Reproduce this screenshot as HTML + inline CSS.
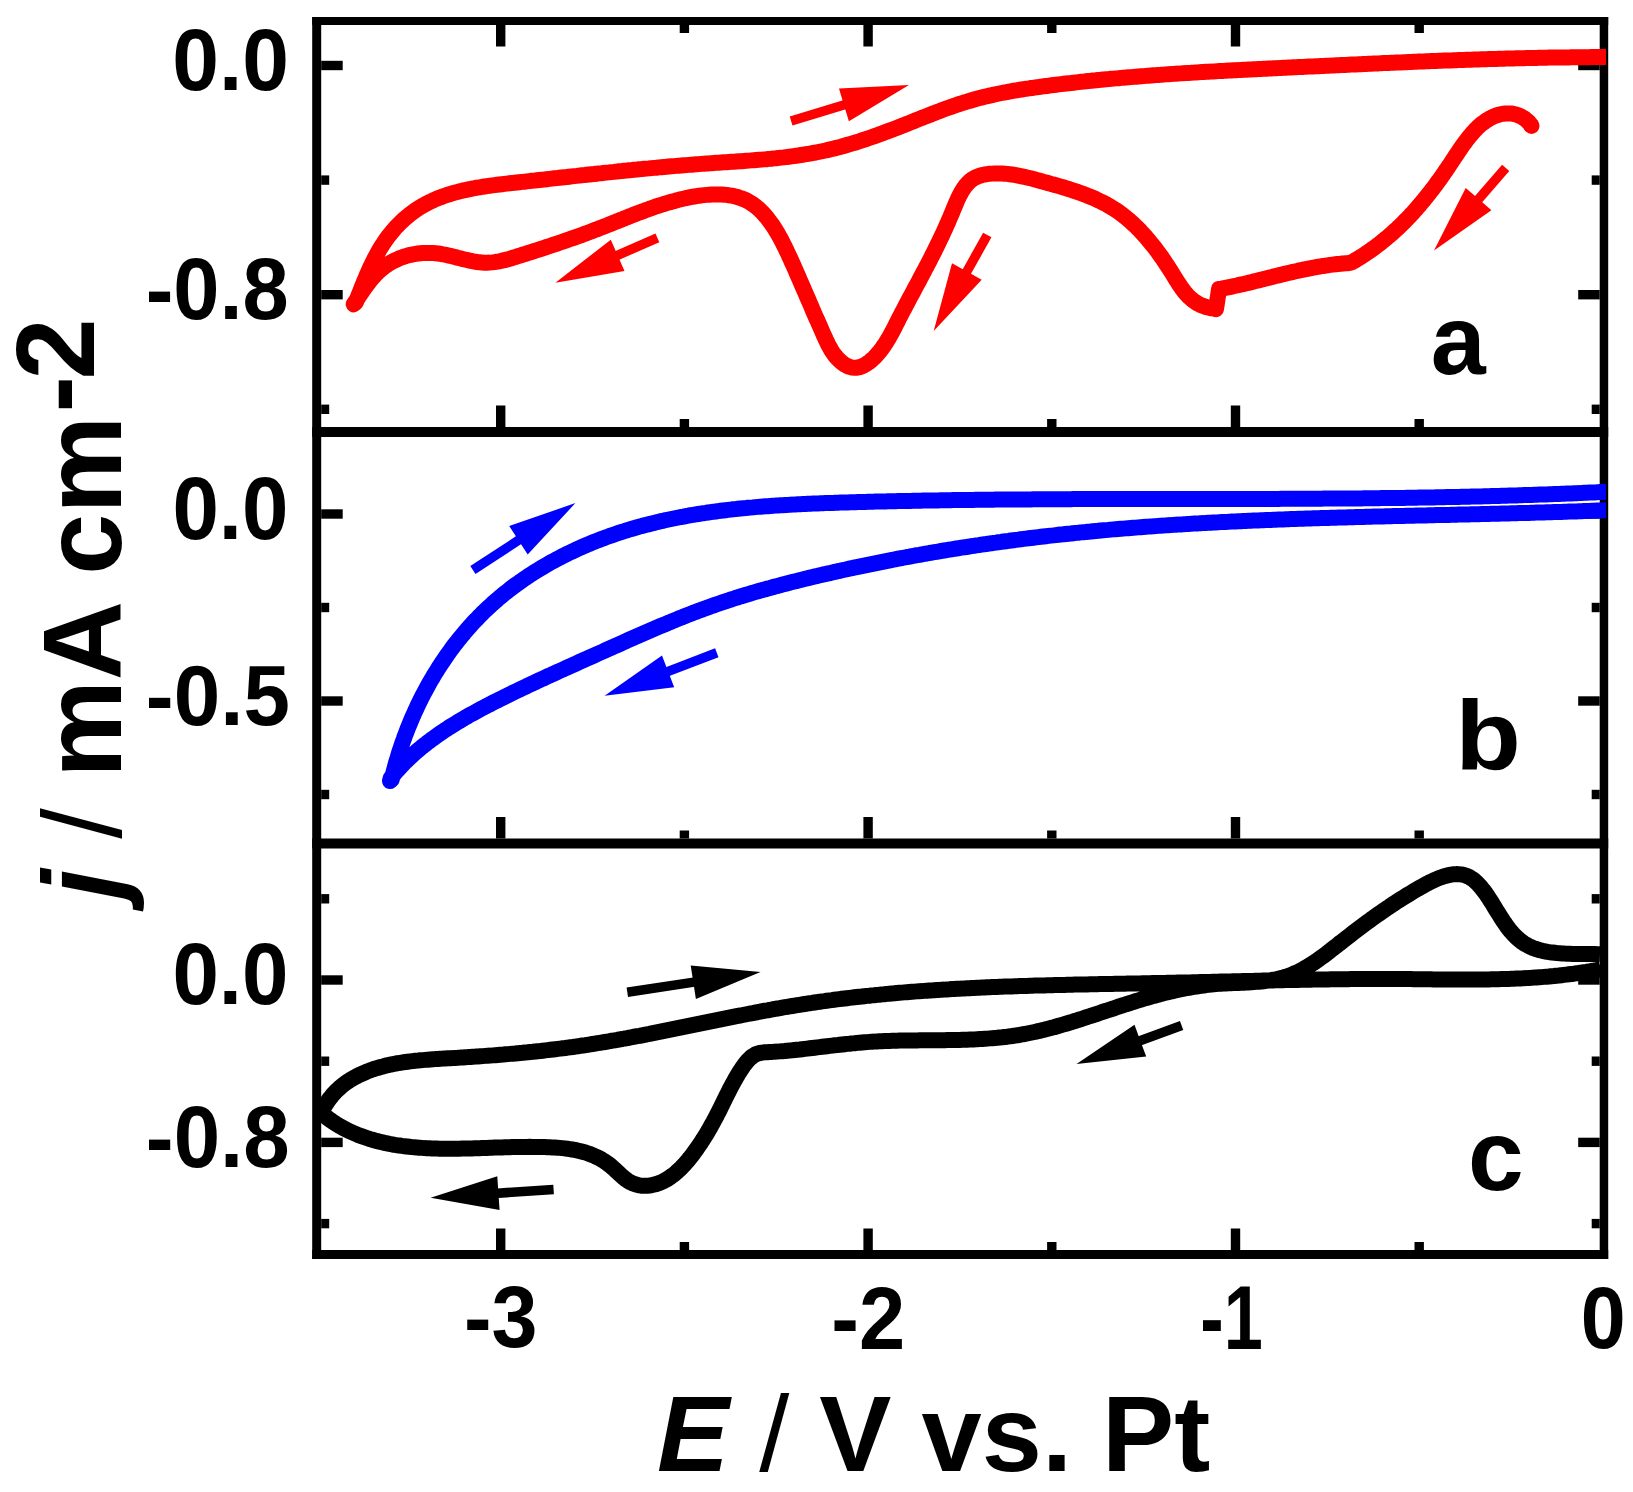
<!DOCTYPE html>
<html><head><meta charset="utf-8"><title>Cyclic voltammograms</title><style>
html,body{margin:0;padding:0;background:#fff;}
svg{display:block;}
text{font-family:"Liberation Sans",Arial,sans-serif;font-weight:bold;fill:#000;}
</style></head><body>
<svg width="1633" height="1492" viewBox="0 0 1633 1492">
<rect x="0" y="0" width="1633" height="1492" fill="#fff"/>
<g id="axes">
<rect x="312.2" y="17.0" width="1296.0" height="8.0" fill="#000"/>
<rect x="312.2" y="427.0" width="1296.0" height="10.0" fill="#000"/>
<rect x="312.2" y="838.5" width="1296.0" height="10.0" fill="#000"/>
<rect x="312.2" y="1250.0" width="1296.0" height="9.0" fill="#000"/>
<rect x="312.2" y="17.0" width="9.0" height="1242.0" fill="#000"/>
<rect x="1599.7" y="17.0" width="8.5" height="1242.0" fill="#000"/>
<rect x="496.0" y="25.0" width="9.4" height="21.5" fill="#000"/>
<rect x="496.0" y="405.5" width="9.4" height="21.5" fill="#000"/>
<rect x="496.0" y="817.0" width="9.4" height="21.5" fill="#000"/>
<rect x="496.0" y="1228.5" width="9.4" height="21.5" fill="#000"/>
<rect x="863.4" y="25.0" width="9.4" height="21.5" fill="#000"/>
<rect x="863.4" y="405.5" width="9.4" height="21.5" fill="#000"/>
<rect x="863.4" y="817.0" width="9.4" height="21.5" fill="#000"/>
<rect x="863.4" y="1228.5" width="9.4" height="21.5" fill="#000"/>
<rect x="1230.8" y="25.0" width="9.4" height="21.5" fill="#000"/>
<rect x="1230.8" y="405.5" width="9.4" height="21.5" fill="#000"/>
<rect x="1230.8" y="817.0" width="9.4" height="21.5" fill="#000"/>
<rect x="1230.8" y="1228.5" width="9.4" height="21.5" fill="#000"/>
<rect x="679.7" y="25.0" width="9.4" height="8.0" fill="#000"/>
<rect x="679.7" y="419.0" width="9.4" height="8.0" fill="#000"/>
<rect x="679.7" y="830.5" width="9.4" height="8.0" fill="#000"/>
<rect x="679.7" y="1242.0" width="9.4" height="8.0" fill="#000"/>
<rect x="1047.1" y="25.0" width="9.4" height="8.0" fill="#000"/>
<rect x="1047.1" y="419.0" width="9.4" height="8.0" fill="#000"/>
<rect x="1047.1" y="830.5" width="9.4" height="8.0" fill="#000"/>
<rect x="1047.1" y="1242.0" width="9.4" height="8.0" fill="#000"/>
<rect x="1414.5" y="25.0" width="9.4" height="8.0" fill="#000"/>
<rect x="1414.5" y="419.0" width="9.4" height="8.0" fill="#000"/>
<rect x="1414.5" y="830.5" width="9.4" height="8.0" fill="#000"/>
<rect x="1414.5" y="1242.0" width="9.4" height="8.0" fill="#000"/>
<rect x="321.2" y="60.8" width="21.5" height="9.4" fill="#000"/>
<rect x="1578.2" y="60.8" width="21.5" height="9.4" fill="#000"/>
<rect x="321.2" y="290.0" width="21.5" height="9.4" fill="#000"/>
<rect x="1578.2" y="290.0" width="21.5" height="9.4" fill="#000"/>
<rect x="321.2" y="175.4" width="8.0" height="9.4" fill="#000"/>
<rect x="1591.7" y="175.4" width="8.0" height="9.4" fill="#000"/>
<rect x="321.2" y="404.6" width="8.0" height="9.4" fill="#000"/>
<rect x="1591.7" y="404.6" width="8.0" height="9.4" fill="#000"/>
<rect x="321.2" y="509.3" width="21.5" height="9.4" fill="#000"/>
<rect x="1578.2" y="509.3" width="21.5" height="9.4" fill="#000"/>
<rect x="321.2" y="696.3" width="21.5" height="9.4" fill="#000"/>
<rect x="1578.2" y="696.3" width="21.5" height="9.4" fill="#000"/>
<rect x="321.2" y="602.8" width="8.0" height="9.4" fill="#000"/>
<rect x="1591.7" y="602.8" width="8.0" height="9.4" fill="#000"/>
<rect x="321.2" y="789.8" width="8.0" height="9.4" fill="#000"/>
<rect x="1591.7" y="789.8" width="8.0" height="9.4" fill="#000"/>
<rect x="321.2" y="975.3" width="21.5" height="9.4" fill="#000"/>
<rect x="1578.2" y="975.3" width="21.5" height="9.4" fill="#000"/>
<rect x="321.2" y="1137.7" width="21.5" height="9.4" fill="#000"/>
<rect x="1578.2" y="1137.7" width="21.5" height="9.4" fill="#000"/>
<rect x="321.2" y="894.1" width="8.0" height="9.4" fill="#000"/>
<rect x="1591.7" y="894.1" width="8.0" height="9.4" fill="#000"/>
<rect x="321.2" y="1056.5" width="8.0" height="9.4" fill="#000"/>
<rect x="1591.7" y="1056.5" width="8.0" height="9.4" fill="#000"/>
<rect x="321.2" y="1218.9" width="8.0" height="9.4" fill="#000"/>
<rect x="1591.7" y="1218.9" width="8.0" height="9.4" fill="#000"/>
</g>
<defs><clipPath id="plotclip"><rect x="0" y="0" width="1606" height="1492"/></clipPath></defs>
<g id="curves" clip-path="url(#plotclip)">
<path d="M1531.5,125.9 L1530.5,124.3 L1528.9,122.4 L1527.0,120.6 L1525.1,119.0 L1523.0,117.6 L1520.8,116.3 L1518.5,115.3 L1516.1,114.5 L1513.7,113.9 L1511.2,113.5 L1508.6,113.4 L1506.1,113.4 L1503.6,113.7 L1501.1,114.1 L1498.6,114.8 L1496.2,115.5 L1493.9,116.4 L1491.6,117.5 L1489.3,118.7 L1487.2,120.0 L1485.1,121.4 L1483.0,122.9 L1481.0,124.4 L1479.1,126.1 L1477.3,127.8 L1475.5,129.6 L1473.8,131.5 L1472.1,133.4 L1470.5,135.3 L1468.9,137.2 L1467.3,139.2 L1465.8,141.2 L1464.3,143.3 L1462.8,145.3 L1461.4,147.4 L1459.9,149.5 L1458.5,151.6 L1457.1,153.7 L1455.7,155.8 L1454.3,157.9 L1452.9,160.0 L1451.5,162.1 L1450.1,164.3 L1448.7,166.4 L1447.3,168.4 L1445.9,170.5 L1444.4,172.6 L1443.0,174.7 L1441.5,176.8 L1440.1,178.8 L1438.6,180.9 L1437.1,182.9 L1435.6,185.0 L1434.1,187.0 L1432.6,189.0 L1431.0,191.0 L1429.5,193.0 L1427.9,195.0 L1426.3,197.0 L1424.7,198.9 L1423.1,200.9 L1421.5,202.8 L1419.9,204.8 L1418.2,206.7 L1416.6,208.6 L1414.9,210.5 L1413.2,212.4 L1411.5,214.2 L1409.8,216.1 L1408.0,217.9 L1406.3,219.7 L1404.5,221.5 L1402.7,223.3 L1400.9,225.1 L1399.1,226.9 L1397.3,228.6 L1395.4,230.3 L1393.5,232.0 L1391.6,233.7 L1389.7,235.4 L1387.8,237.0 L1385.9,238.6 L1383.9,240.2 L1381.9,241.8 L1380.0,243.4 L1378.0,244.9 L1375.9,246.5 L1373.9,248.0 L1371.9,249.4 L1369.8,250.9 L1367.7,252.3 L1365.6,253.8 L1363.5,255.2 L1361.4,256.5 L1359.3,257.9 L1357.1,259.2 L1354.9,260.5 L1352.8,261.8 L1350.7,262.7 L1348.2,263.2 L1345.6,263.3 L1343.0,263.5 L1340.5,263.8 L1337.9,264.0 L1335.3,264.3 L1332.7,264.6 L1330.2,264.9 L1327.6,265.3 L1325.1,265.7 L1322.5,266.0 L1319.9,266.5 L1317.4,266.9 L1314.8,267.4 L1312.3,267.8 L1309.8,268.3 L1307.2,268.8 L1304.7,269.3 L1302.2,269.9 L1299.6,270.4 L1297.1,271.0 L1294.6,271.5 L1292.1,272.1 L1289.5,272.7 L1287.0,273.3 L1284.5,273.9 L1282.0,274.5 L1279.5,275.1 L1277.0,275.7 L1274.5,276.3 L1272.0,277.0 L1269.4,277.6 L1266.9,278.2 L1264.4,278.9 L1261.9,279.5 L1259.4,280.1 L1256.9,280.7 L1254.4,281.3 L1251.9,282.0 L1249.4,282.6 L1246.8,283.2 L1244.3,283.8 L1241.8,284.3 L1239.3,284.9 L1236.8,285.5 L1234.2,286.0 L1231.7,286.6 L1229.2,287.1 L1226.6,287.6 L1224.1,288.1 L1221.6,288.6 L1219.0,289.0 L1218.6,291.9 L1218.2,294.8 L1217.7,297.7 L1217.3,300.5 L1216.9,303.4 L1216.4,306.3 L1216.0,309.2 L1214.3,308.6 L1211.8,308.3 L1209.3,307.8 L1206.9,307.2 L1204.5,306.5 L1202.1,305.6 L1199.8,304.6 L1197.6,303.4 L1195.5,302.1 L1193.4,300.7 L1191.5,299.1 L1189.6,297.4 L1187.8,295.7 L1186.2,293.8 L1184.5,291.9 L1183.0,289.9 L1181.5,287.9 L1180.1,285.8 L1178.7,283.7 L1177.4,281.6 L1176.0,279.5 L1174.7,277.4 L1173.4,275.2 L1172.1,273.1 L1170.8,271.0 L1169.4,268.9 L1168.0,266.8 L1166.7,264.7 L1165.3,262.6 L1163.9,260.5 L1162.5,258.4 L1161.0,256.4 L1159.6,254.4 L1158.1,252.3 L1156.6,250.3 L1155.1,248.3 L1153.6,246.3 L1152.0,244.4 L1150.4,242.4 L1148.8,240.5 L1147.2,238.6 L1145.6,236.7 L1143.9,234.8 L1142.2,233.0 L1140.5,231.1 L1138.8,229.3 L1137.0,227.5 L1135.2,225.8 L1133.4,224.1 L1131.6,222.4 L1129.7,220.7 L1127.8,219.1 L1125.9,217.5 L1123.9,215.9 L1121.9,214.4 L1119.9,212.9 L1117.9,211.4 L1115.8,210.0 L1113.7,208.7 L1111.5,207.4 L1109.4,206.1 L1107.2,204.8 L1105.0,203.6 L1102.8,202.5 L1100.5,201.4 L1098.3,200.3 L1096.0,199.2 L1093.7,198.2 L1091.4,197.2 L1089.1,196.3 L1086.8,195.3 L1084.4,194.4 L1082.1,193.6 L1079.7,192.7 L1077.4,191.9 L1075.0,191.1 L1072.6,190.3 L1070.2,189.5 L1067.8,188.8 L1065.4,188.0 L1063.0,187.3 L1060.6,186.6 L1058.2,185.9 L1055.8,185.2 L1053.4,184.5 L1051.0,183.9 L1048.6,183.2 L1046.2,182.5 L1043.8,181.9 L1041.3,181.2 L1038.9,180.5 L1036.5,179.9 L1034.1,179.2 L1031.7,178.6 L1029.2,178.0 L1026.8,177.4 L1024.3,176.8 L1021.9,176.3 L1019.4,175.8 L1017.0,175.3 L1014.5,174.9 L1012.0,174.5 L1009.6,174.2 L1007.1,173.9 L1004.6,173.7 L1002.1,173.5 L999.6,173.4 L997.1,173.4 L994.6,173.4 L992.1,173.6 L989.6,173.8 L987.1,174.1 L984.6,174.5 L982.2,175.0 L979.7,175.7 L977.4,176.6 L975.1,177.6 L972.9,178.9 L970.9,180.3 L969.0,182.0 L967.3,183.8 L965.6,185.7 L964.1,187.7 L962.8,189.8 L961.5,191.9 L960.3,194.1 L959.1,196.4 L958.0,198.6 L957.0,200.9 L956.0,203.2 L955.0,205.5 L954.1,207.8 L953.1,210.1 L952.2,212.5 L951.2,214.8 L950.2,217.1 L949.2,219.4 L948.3,221.7 L947.2,224.0 L946.2,226.3 L945.2,228.6 L944.2,230.8 L943.1,233.1 L942.1,235.4 L941.0,237.6 L939.9,239.9 L938.8,242.2 L937.7,244.4 L936.6,246.7 L935.5,248.9 L934.4,251.2 L933.3,253.4 L932.1,255.6 L931.0,257.9 L929.9,260.1 L928.7,262.3 L927.6,264.5 L926.4,266.8 L925.2,269.0 L924.1,271.2 L922.9,273.4 L921.7,275.6 L920.5,277.8 L919.4,280.1 L918.2,282.3 L917.0,284.5 L915.8,286.7 L914.6,288.9 L913.5,291.1 L912.3,293.3 L911.1,295.5 L909.9,297.7 L908.7,300.0 L907.6,302.2 L906.4,304.4 L905.2,306.6 L904.1,308.8 L902.9,311.0 L901.7,313.3 L900.6,315.5 L899.4,317.7 L898.3,319.9 L897.2,322.2 L896.0,324.4 L894.9,326.7 L893.8,328.9 L892.6,331.1 L891.4,333.3 L890.2,335.5 L889.0,337.7 L887.7,339.8 L886.4,342.0 L885.0,344.1 L883.6,346.2 L882.2,348.2 L880.7,350.2 L879.1,352.2 L877.5,354.1 L875.8,355.9 L874.1,357.7 L872.2,359.5 L870.4,361.1 L868.4,362.6 L866.3,364.1 L864.1,365.3 L861.9,366.4 L859.5,367.2 L857.1,367.7 L854.6,367.8 L852.1,367.6 L849.7,366.9 L847.3,366.0 L845.1,364.8 L843.0,363.4 L841.1,361.8 L839.2,360.2 L837.4,358.4 L835.8,356.5 L834.2,354.5 L832.8,352.5 L831.4,350.4 L830.2,348.2 L829.0,346.0 L827.8,343.8 L826.8,341.5 L825.7,339.3 L824.7,337.0 L823.6,334.7 L822.6,332.4 L821.6,330.1 L820.6,327.8 L819.6,325.5 L818.6,323.2 L817.6,320.9 L816.5,318.7 L815.5,316.4 L814.5,314.1 L813.5,311.8 L812.5,309.5 L811.6,307.2 L810.6,304.9 L809.6,302.6 L808.6,300.3 L807.6,298.0 L806.6,295.7 L805.6,293.4 L804.6,291.1 L803.6,288.8 L802.6,286.5 L801.6,284.2 L800.6,281.9 L799.6,279.6 L798.6,277.3 L797.6,275.0 L796.6,272.7 L795.6,270.4 L794.6,268.1 L793.6,265.8 L792.5,263.5 L791.5,261.2 L790.5,258.9 L789.4,256.7 L788.4,254.4 L787.3,252.1 L786.2,249.9 L785.2,247.6 L784.0,245.4 L782.9,243.1 L781.8,240.9 L780.6,238.7 L779.4,236.5 L778.2,234.3 L776.9,232.1 L775.6,230.0 L774.3,227.9 L772.9,225.8 L771.5,223.7 L770.0,221.7 L768.5,219.7 L767.0,217.7 L765.4,215.8 L763.7,213.9 L762.0,212.1 L760.2,210.3 L758.4,208.6 L756.5,207.0 L754.5,205.4 L752.4,204.0 L750.3,202.6 L748.2,201.4 L745.9,200.2 L743.6,199.2 L741.3,198.3 L738.9,197.5 L736.5,196.8 L734.1,196.2 L731.6,195.7 L729.2,195.3 L726.7,194.9 L724.2,194.7 L721.7,194.5 L719.2,194.4 L716.7,194.4 L714.2,194.4 L711.7,194.5 L709.2,194.7 L706.7,194.9 L704.2,195.1 L701.7,195.4 L699.2,195.7 L696.7,196.1 L694.3,196.5 L691.8,196.9 L689.3,197.4 L686.9,197.9 L684.4,198.5 L682.0,199.0 L679.6,199.6 L677.1,200.2 L674.7,200.9 L672.3,201.5 L669.9,202.2 L667.5,202.9 L665.1,203.6 L662.7,204.4 L660.3,205.1 L657.9,205.9 L655.5,206.7 L653.2,207.5 L650.8,208.3 L648.4,209.2 L646.1,210.0 L643.7,210.9 L641.4,211.8 L639.0,212.6 L636.7,213.5 L634.3,214.4 L632.0,215.4 L629.7,216.3 L627.3,217.2 L625.0,218.1 L622.7,219.1 L620.4,220.0 L618.0,220.9 L615.7,221.9 L613.4,222.8 L611.1,223.7 L608.7,224.7 L606.4,225.6 L604.1,226.5 L601.8,227.4 L599.4,228.3 L597.1,229.2 L594.7,230.1 L592.4,231.0 L590.1,231.9 L587.7,232.8 L585.4,233.6 L583.0,234.5 L580.6,235.4 L578.3,236.2 L575.9,237.1 L573.6,237.9 L571.2,238.7 L568.8,239.5 L566.5,240.4 L564.1,241.2 L561.7,242.0 L559.4,242.8 L557.0,243.6 L554.6,244.4 L552.2,245.2 L549.8,246.0 L547.5,246.8 L545.1,247.5 L542.7,248.3 L540.3,249.1 L537.9,249.9 L535.6,250.6 L533.2,251.4 L530.8,252.2 L528.4,252.9 L526.0,253.7 L523.6,254.4 L521.2,255.2 L518.8,255.9 L516.4,256.7 L514.0,257.4 L511.6,258.2 L509.2,258.9 L506.8,259.5 L504.4,260.2 L502.0,260.7 L499.5,261.3 L497.1,261.7 L494.6,262.1 L492.1,262.4 L489.6,262.6 L487.1,262.7 L484.6,262.7 L482.1,262.6 L479.6,262.3 L477.1,262.0 L474.6,261.6 L472.2,261.2 L469.7,260.7 L467.3,260.1 L464.8,259.5 L462.4,258.9 L460.0,258.3 L457.5,257.7 L455.1,257.0 L452.7,256.4 L450.3,255.8 L447.8,255.3 L445.4,254.7 L442.9,254.3 L440.4,253.8 L437.9,253.5 L435.5,253.2 L433.0,253.0 L430.5,252.9 L427.9,252.9 L425.4,252.9 L422.9,253.0 L420.4,253.2 L418.0,253.5 L415.5,253.9 L413.0,254.3 L410.6,254.8 L408.1,255.4 L405.7,256.1 L403.3,256.9 L401.0,257.7 L398.6,258.7 L396.4,259.7 L394.1,260.8 L391.9,261.9 L389.7,263.2 L387.6,264.5 L385.5,265.9 L383.5,267.4 L381.5,269.0 L379.6,270.6 L377.8,272.3 L376.0,274.1 L374.3,275.9 L372.6,277.7 L371.0,279.7 L369.4,281.6 L367.9,283.6 L366.4,285.6 L364.9,287.6 L363.5,289.7 L362.1,291.7 L360.7,293.8 L359.3,295.9 L357.9,298.0 L356.5,300.1 L355.1,302.2 L353.7,304.3 L355.8,302.5 L356.7,300.1 L357.6,297.8 L358.5,295.5 L359.5,293.1 L360.4,290.8 L361.3,288.5 L362.2,286.2 L363.2,283.8 L364.1,281.5 L365.1,279.2 L366.1,276.9 L367.0,274.6 L368.1,272.3 L369.1,270.0 L370.1,267.7 L371.2,265.5 L372.3,263.2 L373.4,261.0 L374.5,258.7 L375.7,256.5 L376.9,254.3 L378.1,252.1 L379.3,249.9 L380.6,247.8 L381.9,245.7 L383.3,243.6 L384.7,241.5 L386.1,239.4 L387.6,237.4 L389.1,235.4 L390.7,233.4 L392.3,231.5 L393.9,229.6 L395.5,227.7 L397.3,225.9 L399.0,224.1 L400.8,222.3 L402.6,220.6 L404.4,218.9 L406.3,217.3 L408.3,215.7 L410.2,214.1 L412.2,212.6 L414.2,211.1 L416.3,209.7 L418.4,208.3 L420.5,207.0 L422.7,205.7 L424.9,204.5 L427.1,203.3 L429.3,202.2 L431.6,201.1 L433.8,200.0 L436.1,199.0 L438.5,198.1 L440.8,197.2 L443.2,196.3 L445.5,195.5 L447.9,194.7 L450.3,194.0 L452.7,193.2 L455.1,192.6 L457.5,191.9 L459.9,191.3 L462.4,190.7 L464.8,190.2 L467.3,189.6 L469.7,189.1 L472.2,188.6 L474.6,188.2 L477.1,187.7 L479.6,187.3 L482.1,186.9 L484.5,186.5 L487.0,186.1 L489.5,185.8 L492.0,185.4 L494.5,185.1 L496.9,184.8 L499.4,184.5 L501.9,184.2 L504.4,183.9 L506.9,183.6 L509.4,183.3 L511.9,183.0 L514.4,182.8 L516.8,182.5 L519.3,182.2 L521.8,181.9 L524.3,181.7 L526.8,181.4 L529.3,181.1 L531.8,180.8 L534.3,180.6 L536.8,180.3 L539.3,180.0 L541.8,179.7 L544.2,179.5 L546.7,179.2 L549.2,178.9 L551.7,178.6 L554.2,178.3 L556.7,178.1 L559.2,177.8 L561.7,177.5 L564.2,177.2 L566.7,177.0 L569.1,176.7 L571.6,176.4 L574.1,176.1 L576.6,175.9 L579.1,175.6 L581.6,175.3 L584.1,175.1 L586.6,174.8 L589.1,174.5 L591.6,174.2 L594.0,174.0 L596.5,173.7 L599.0,173.4 L601.5,173.2 L604.0,172.9 L606.5,172.6 L609.0,172.4 L611.5,172.1 L614.0,171.9 L616.5,171.6 L619.0,171.3 L621.5,171.1 L623.9,170.8 L626.4,170.6 L628.9,170.3 L631.4,170.1 L633.9,169.8 L636.4,169.6 L638.9,169.3 L641.4,169.1 L643.9,168.8 L646.4,168.6 L648.9,168.4 L651.4,168.1 L653.9,167.9 L656.4,167.7 L658.9,167.4 L661.4,167.2 L663.8,167.0 L666.3,166.8 L668.8,166.5 L671.3,166.3 L673.8,166.1 L676.3,165.9 L678.8,165.7 L681.3,165.5 L683.8,165.3 L686.3,165.1 L688.8,164.9 L691.3,164.7 L693.8,164.5 L696.3,164.3 L698.8,164.1 L701.3,163.9 L703.8,163.7 L706.3,163.5 L708.8,163.4 L711.3,163.2 L713.8,163.0 L716.3,162.8 L718.8,162.7 L721.3,162.5 L723.8,162.3 L726.3,162.2 L728.8,162.0 L731.3,161.8 L733.8,161.7 L736.3,161.5 L738.8,161.3 L741.3,161.2 L743.8,161.0 L746.3,160.8 L748.8,160.6 L751.3,160.4 L753.8,160.2 L756.3,160.0 L758.8,159.8 L761.3,159.6 L763.8,159.4 L766.3,159.2 L768.8,158.9 L771.3,158.7 L773.8,158.4 L776.2,158.2 L778.7,157.9 L781.2,157.6 L783.7,157.4 L786.2,157.1 L788.7,156.8 L791.2,156.4 L793.7,156.1 L796.1,155.8 L798.6,155.4 L801.1,155.0 L803.6,154.6 L806.0,154.2 L808.5,153.8 L811.0,153.4 L813.5,152.9 L815.9,152.5 L818.4,152.0 L820.8,151.5 L823.3,151.0 L825.7,150.5 L828.2,149.9 L830.6,149.3 L833.0,148.7 L835.5,148.1 L837.9,147.5 L840.3,146.9 L842.7,146.2 L845.2,145.5 L847.6,144.8 L850.0,144.1 L852.4,143.4 L854.8,142.7 L857.2,142.0 L859.5,141.2 L861.9,140.4 L864.3,139.6 L866.7,138.8 L869.1,138.0 L871.4,137.2 L873.8,136.4 L876.2,135.6 L878.5,134.7 L880.9,133.9 L883.2,133.0 L885.6,132.1 L887.9,131.2 L890.3,130.4 L892.6,129.5 L894.9,128.6 L897.3,127.7 L899.6,126.8 L901.9,125.8 L904.3,124.9 L906.6,124.0 L908.9,123.1 L911.3,122.1 L913.6,121.2 L915.9,120.3 L918.2,119.4 L920.6,118.4 L922.9,117.5 L925.2,116.6 L927.6,115.7 L929.9,114.8 L932.2,113.8 L934.6,112.9 L936.9,112.0 L939.2,111.2 L941.6,110.3 L943.9,109.4 L946.3,108.5 L948.6,107.7 L951.0,106.9 L953.4,106.0 L955.7,105.2 L958.1,104.4 L960.5,103.6 L962.9,102.9 L965.3,102.1 L967.7,101.4 L970.1,100.7 L972.5,100.0 L974.9,99.3 L977.3,98.6 L979.7,98.0 L982.2,97.4 L984.6,96.8 L987.0,96.2 L989.5,95.6 L991.9,95.1 L994.4,94.5 L996.8,94.0 L999.3,93.5 L1001.7,93.0 L1004.2,92.5 L1006.6,92.1 L1009.1,91.6 L1011.6,91.2 L1014.0,90.7 L1016.5,90.3 L1019.0,89.9 L1021.5,89.5 L1023.9,89.1 L1026.4,88.7 L1028.9,88.4 L1031.4,88.0 L1033.8,87.7 L1036.3,87.3 L1038.8,87.0 L1041.3,86.6 L1043.8,86.3 L1046.3,86.0 L1048.7,85.7 L1051.2,85.3 L1053.7,85.0 L1056.2,84.7 L1058.7,84.4 L1061.2,84.1 L1063.7,83.8 L1066.1,83.5 L1068.6,83.2 L1071.1,83.0 L1073.6,82.7 L1076.1,82.4 L1078.6,82.1 L1081.1,81.8 L1083.6,81.6 L1086.1,81.3 L1088.6,81.0 L1091.1,80.8 L1093.5,80.5 L1096.0,80.3 L1098.5,80.0 L1101.0,79.8 L1103.5,79.5 L1106.0,79.3 L1108.5,79.1 L1111.0,78.8 L1113.5,78.6 L1116.0,78.4 L1118.5,78.2 L1121.0,77.9 L1123.5,77.7 L1126.0,77.5 L1128.5,77.3 L1131.0,77.1 L1133.5,76.9 L1136.0,76.7 L1138.5,76.5 L1141.0,76.3 L1143.5,76.1 L1146.0,75.9 L1148.4,75.7 L1150.9,75.5 L1153.4,75.3 L1155.9,75.1 L1158.4,74.9 L1160.9,74.8 L1163.4,74.6 L1165.9,74.4 L1168.4,74.2 L1170.9,74.1 L1173.4,73.9 L1175.9,73.7 L1178.4,73.6 L1180.9,73.4 L1183.4,73.2 L1185.9,73.1 L1188.4,72.9 L1190.9,72.8 L1193.4,72.6 L1195.9,72.4 L1198.4,72.3 L1200.9,72.1 L1203.4,72.0 L1205.9,71.8 L1208.4,71.7 L1210.9,71.6 L1213.4,71.4 L1216.0,71.3 L1218.5,71.1 L1221.0,71.0 L1223.5,70.9 L1226.0,70.7 L1228.5,70.6 L1231.0,70.5 L1233.5,70.3 L1236.0,70.2 L1238.5,70.1 L1241.0,69.9 L1243.5,69.8 L1246.0,69.7 L1248.5,69.5 L1251.0,69.4 L1253.5,69.3 L1256.0,69.2 L1258.5,69.0 L1261.0,68.9 L1263.5,68.8 L1266.0,68.7 L1268.5,68.5 L1271.0,68.4 L1273.5,68.3 L1276.0,68.2 L1278.5,68.1 L1281.0,67.9 L1283.5,67.8 L1286.0,67.7 L1288.5,67.6 L1291.0,67.5 L1293.5,67.3 L1296.0,67.2 L1298.5,67.1 L1301.0,67.0 L1303.5,66.9 L1306.0,66.7 L1308.5,66.6 L1311.0,66.5 L1313.5,66.4 L1316.0,66.3 L1318.5,66.2 L1321.0,66.0 L1323.6,65.9 L1326.1,65.8 L1328.6,65.7 L1331.1,65.6 L1333.6,65.4 L1336.1,65.3 L1338.6,65.2 L1341.1,65.1 L1343.6,65.0 L1346.1,64.9 L1348.6,64.7 L1351.1,64.6 L1353.6,64.5 L1356.1,64.4 L1358.6,64.3 L1361.1,64.2 L1363.6,64.0 L1366.1,63.9 L1368.6,63.8 L1371.1,63.7 L1373.6,63.6 L1376.1,63.5 L1378.6,63.4 L1381.1,63.2 L1383.6,63.1 L1386.1,63.0 L1388.6,62.9 L1391.1,62.8 L1393.6,62.7 L1396.1,62.6 L1398.6,62.5 L1401.1,62.4 L1403.6,62.3 L1406.1,62.2 L1408.6,62.0 L1411.2,61.9 L1413.7,61.8 L1416.2,61.7 L1418.7,61.6 L1421.2,61.5 L1423.7,61.4 L1426.2,61.3 L1428.7,61.2 L1431.2,61.1 L1433.7,61.0 L1436.2,60.9 L1438.7,60.8 L1441.2,60.7 L1443.7,60.6 L1446.2,60.6 L1448.7,60.5 L1451.2,60.4 L1453.7,60.3 L1456.2,60.2 L1458.7,60.1 L1461.2,60.0 L1463.7,59.9 L1466.2,59.8 L1468.7,59.7 L1471.2,59.7 L1473.7,59.6 L1476.2,59.5 L1478.8,59.4 L1481.3,59.3 L1483.8,59.3 L1486.3,59.2 L1488.8,59.1 L1491.3,59.0 L1493.8,58.9 L1496.3,58.9 L1498.8,58.8 L1501.3,58.7 L1503.8,58.7 L1506.3,58.6 L1508.8,58.5 L1511.3,58.5 L1513.8,58.4 L1516.3,58.3 L1518.8,58.3 L1521.3,58.2 L1523.8,58.2 L1526.3,58.1 L1528.8,58.0 L1531.3,58.0 L1533.8,57.9 L1536.4,57.9 L1538.9,57.8 L1541.4,57.8 L1543.9,57.7 L1546.4,57.7 L1548.9,57.6 L1551.4,57.6 L1553.9,57.6 L1556.4,57.5 L1558.9,57.5 L1561.4,57.4 L1563.9,57.4 L1566.4,57.4 L1568.9,57.4 L1571.4,57.3 L1573.9,57.3 L1576.4,57.3 L1578.9,57.2 L1581.4,57.2 L1584.0,57.2 L1586.5,57.2 L1589.0,57.2 L1591.5,57.1 L1594.0,57.1 L1596.5,57.1 L1599.0,57.1 L1601.5,57.1 L1604.0,57.1 L1606.5,57.1 L1609.0,57.1 L1611.5,57.1 L1614.0,56.8" fill="none" stroke="#ff0000" stroke-width="16" stroke-linejoin="round" stroke-linecap="butt"/>
<circle cx="1531.5" cy="125.9" r="8.0" fill="#ff0000"/>
<path d="M1614.0,509.7 L1611.5,510.0 L1609.0,510.1 L1606.5,510.2 L1604.0,510.3 L1601.5,510.4 L1599.0,510.5 L1596.5,510.6 L1594.0,510.7 L1591.5,510.8 L1589.0,510.9 L1586.5,511.0 L1584.0,511.1 L1581.5,511.2 L1579.0,511.3 L1576.5,511.4 L1574.0,511.5 L1571.4,511.5 L1568.9,511.6 L1566.4,511.7 L1563.9,511.8 L1561.4,511.9 L1558.9,512.0 L1556.4,512.0 L1553.9,512.1 L1551.4,512.2 L1548.9,512.3 L1546.4,512.3 L1543.9,512.4 L1541.4,512.5 L1538.9,512.6 L1536.4,512.6 L1533.9,512.7 L1531.4,512.8 L1528.9,512.9 L1526.4,512.9 L1523.8,513.0 L1521.3,513.1 L1518.8,513.1 L1516.3,513.2 L1513.8,513.3 L1511.3,513.3 L1508.8,513.4 L1506.3,513.5 L1503.8,513.5 L1501.3,513.6 L1498.8,513.7 L1496.3,513.7 L1493.8,513.8 L1491.3,513.8 L1488.8,513.9 L1486.3,514.0 L1483.8,514.0 L1481.3,514.1 L1478.7,514.2 L1476.2,514.2 L1473.7,514.3 L1471.2,514.3 L1468.7,514.4 L1466.2,514.4 L1463.7,514.5 L1461.2,514.6 L1458.7,514.6 L1456.2,514.7 L1453.7,514.7 L1451.2,514.8 L1448.7,514.9 L1446.2,514.9 L1443.7,515.0 L1441.2,515.0 L1438.7,515.1 L1436.2,515.1 L1433.6,515.2 L1431.1,515.3 L1428.6,515.3 L1426.1,515.4 L1423.6,515.4 L1421.1,515.5 L1418.6,515.5 L1416.1,515.6 L1413.6,515.7 L1411.1,515.7 L1408.6,515.8 L1406.1,515.8 L1403.6,515.9 L1401.1,516.0 L1398.6,516.0 L1396.1,516.1 L1393.6,516.1 L1391.0,516.2 L1388.5,516.3 L1386.0,516.3 L1383.5,516.4 L1381.0,516.4 L1378.5,516.5 L1376.0,516.6 L1373.5,516.6 L1371.0,516.7 L1368.5,516.8 L1366.0,516.8 L1363.5,516.9 L1361.0,517.0 L1358.5,517.0 L1356.0,517.1 L1353.5,517.2 L1351.0,517.2 L1348.5,517.3 L1345.9,517.4 L1343.4,517.4 L1340.9,517.5 L1338.4,517.6 L1335.9,517.7 L1333.4,517.7 L1330.9,517.8 L1328.4,517.9 L1325.9,518.0 L1323.4,518.0 L1320.9,518.1 L1318.4,518.2 L1315.9,518.3 L1313.4,518.3 L1310.9,518.4 L1308.4,518.5 L1305.9,518.6 L1303.4,518.7 L1300.9,518.8 L1298.4,518.8 L1295.8,518.9 L1293.3,519.0 L1290.8,519.1 L1288.3,519.2 L1285.8,519.3 L1283.3,519.4 L1280.8,519.5 L1278.3,519.6 L1275.8,519.7 L1273.3,519.8 L1270.8,519.9 L1268.3,520.0 L1265.8,520.1 L1263.3,520.2 L1260.8,520.3 L1258.3,520.4 L1255.8,520.5 L1253.3,520.6 L1250.8,520.7 L1248.3,520.8 L1245.8,520.9 L1243.3,521.0 L1240.7,521.2 L1238.2,521.3 L1235.7,521.4 L1233.2,521.5 L1230.7,521.6 L1228.2,521.8 L1225.7,521.9 L1223.2,522.0 L1220.7,522.1 L1218.2,522.3 L1215.7,522.4 L1213.2,522.5 L1210.7,522.7 L1208.2,522.8 L1205.7,522.9 L1203.2,523.1 L1200.7,523.2 L1198.2,523.4 L1195.7,523.5 L1193.2,523.6 L1190.7,523.8 L1188.2,523.9 L1185.7,524.1 L1183.2,524.3 L1180.7,524.4 L1178.2,524.6 L1175.7,524.7 L1173.2,524.9 L1170.7,525.1 L1168.2,525.2 L1165.7,525.4 L1163.2,525.6 L1160.7,525.7 L1158.2,525.9 L1155.7,526.1 L1153.2,526.3 L1150.7,526.4 L1148.2,526.6 L1145.7,526.8 L1143.2,527.0 L1140.7,527.2 L1138.2,527.4 L1135.7,527.6 L1133.2,527.8 L1130.7,528.0 L1128.2,528.2 L1125.7,528.4 L1123.2,528.6 L1120.7,528.8 L1118.2,529.0 L1115.7,529.2 L1113.2,529.4 L1110.7,529.6 L1108.2,529.9 L1105.7,530.1 L1103.2,530.3 L1100.7,530.5 L1098.2,530.8 L1095.7,531.0 L1093.2,531.2 L1090.7,531.5 L1088.2,531.7 L1085.7,532.0 L1083.3,532.2 L1080.8,532.4 L1078.3,532.7 L1075.8,532.9 L1073.3,533.2 L1070.8,533.5 L1068.3,533.7 L1065.8,534.0 L1063.3,534.3 L1060.8,534.5 L1058.3,534.8 L1055.8,535.1 L1053.3,535.4 L1050.9,535.6 L1048.4,535.9 L1045.9,536.2 L1043.4,536.5 L1040.9,536.8 L1038.4,537.1 L1035.9,537.4 L1033.4,537.7 L1030.9,538.0 L1028.5,538.3 L1026.0,538.6 L1023.5,538.9 L1021.0,539.2 L1018.5,539.6 L1016.0,539.9 L1013.5,540.2 L1011.0,540.5 L1008.6,540.9 L1006.1,541.2 L1003.6,541.5 L1001.1,541.9 L998.6,542.2 L996.1,542.6 L993.7,542.9 L991.2,543.3 L988.7,543.6 L986.2,544.0 L983.7,544.3 L981.3,544.7 L978.8,545.1 L976.3,545.4 L973.8,545.8 L971.3,546.2 L968.9,546.6 L966.4,547.0 L963.9,547.3 L961.4,547.7 L959.0,548.1 L956.5,548.5 L954.0,548.9 L951.5,549.3 L949.1,549.7 L946.6,550.1 L944.1,550.5 L941.6,550.9 L939.2,551.4 L936.7,551.8 L934.2,552.2 L931.8,552.6 L929.3,553.0 L926.8,553.5 L924.4,553.9 L921.9,554.3 L919.4,554.8 L917.0,555.2 L914.5,555.7 L912.0,556.1 L909.6,556.6 L907.1,557.0 L904.6,557.5 L902.2,558.0 L899.7,558.4 L897.2,558.9 L894.8,559.4 L892.3,559.8 L889.9,560.3 L887.4,560.8 L884.9,561.3 L882.5,561.8 L880.0,562.3 L877.6,562.8 L875.1,563.3 L872.7,563.8 L870.2,564.3 L867.7,564.8 L865.3,565.3 L862.8,565.8 L860.4,566.3 L857.9,566.8 L855.5,567.3 L853.0,567.9 L850.6,568.4 L848.1,568.9 L845.7,569.5 L843.2,570.0 L840.8,570.6 L838.3,571.1 L835.9,571.7 L833.5,572.2 L831.0,572.8 L828.6,573.3 L826.1,573.9 L823.7,574.4 L821.2,575.0 L818.8,575.6 L816.4,576.2 L813.9,576.7 L811.5,577.3 L809.0,577.9 L806.6,578.5 L804.2,579.1 L801.7,579.7 L799.3,580.3 L796.9,580.9 L794.4,581.5 L792.0,582.1 L789.6,582.7 L787.2,583.4 L784.7,584.0 L782.3,584.6 L779.9,585.3 L777.5,585.9 L775.0,586.5 L772.6,587.2 L770.2,587.9 L767.8,588.5 L765.4,589.2 L763.0,589.9 L760.5,590.5 L758.1,591.2 L755.7,591.9 L753.3,592.6 L750.9,593.3 L748.5,594.1 L746.1,594.8 L743.7,595.5 L741.3,596.2 L738.9,597.0 L736.5,597.7 L734.1,598.5 L731.8,599.3 L729.4,600.0 L727.0,600.8 L724.6,601.6 L722.2,602.4 L719.9,603.2 L717.5,604.0 L715.1,604.8 L712.8,605.7 L710.4,606.5 L708.0,607.4 L705.7,608.2 L703.3,609.1 L701.0,609.9 L698.6,610.8 L696.3,611.7 L693.9,612.6 L691.6,613.5 L689.3,614.4 L686.9,615.3 L684.6,616.2 L682.3,617.2 L679.9,618.1 L677.6,619.0 L675.3,620.0 L673.0,620.9 L670.7,621.9 L668.3,622.8 L666.0,623.8 L663.7,624.8 L661.4,625.7 L659.1,626.7 L656.8,627.7 L654.5,628.7 L652.2,629.7 L649.9,630.7 L647.6,631.7 L645.3,632.7 L643.0,633.7 L640.7,634.7 L638.4,635.7 L636.1,636.7 L633.8,637.7 L631.5,638.7 L629.2,639.7 L626.9,640.7 L624.6,641.8 L622.4,642.8 L620.1,643.8 L617.8,644.8 L615.5,645.8 L613.2,646.9 L610.9,647.9 L608.6,648.9 L606.3,649.9 L604.1,651.0 L601.8,652.0 L599.5,653.0 L597.2,654.0 L594.9,655.1 L592.6,656.1 L590.3,657.1 L588.0,658.1 L585.8,659.2 L583.5,660.2 L581.2,661.2 L578.9,662.2 L576.6,663.3 L574.3,664.3 L572.0,665.3 L569.8,666.4 L567.5,667.4 L565.2,668.4 L562.9,669.5 L560.6,670.5 L558.3,671.5 L556.1,672.6 L553.8,673.6 L551.5,674.6 L549.2,675.7 L546.9,676.7 L544.7,677.8 L542.4,678.8 L540.1,679.9 L537.8,680.9 L535.6,682.0 L533.3,683.1 L531.0,684.1 L528.8,685.2 L526.5,686.3 L524.2,687.3 L522.0,688.4 L519.7,689.5 L517.4,690.6 L515.2,691.7 L512.9,692.8 L510.7,693.9 L508.4,695.0 L506.2,696.1 L503.9,697.2 L501.7,698.3 L499.5,699.4 L497.2,700.6 L495.0,701.7 L492.7,702.8 L490.5,704.0 L488.3,705.1 L486.1,706.3 L483.8,707.4 L481.6,708.6 L479.4,709.8 L477.2,711.0 L475.0,712.2 L472.8,713.4 L470.6,714.6 L468.4,715.8 L466.3,717.1 L464.1,718.3 L461.9,719.6 L459.8,720.9 L457.6,722.2 L455.5,723.5 L453.3,724.8 L451.2,726.1 L449.1,727.4 L447.0,728.8 L444.9,730.2 L442.8,731.6 L440.7,733.0 L438.7,734.4 L436.6,735.8 L434.6,737.3 L432.6,738.8 L430.5,740.3 L428.5,741.8 L426.6,743.3 L424.6,744.8 L422.6,746.4 L420.7,748.0 L418.8,749.6 L416.9,751.2 L415.0,752.9 L413.1,754.6 L411.3,756.2 L409.4,758.0 L407.6,759.7 L405.8,761.4 L404.0,763.2 L402.3,765.0 L400.6,766.8 L398.9,768.7 L397.2,770.5 L395.5,772.4 L393.9,774.3 L392.3,776.2 L390.7,778.1 L390.0,781.0 L391.7,779.6 L392.3,777.1 L392.9,774.7 L393.5,772.3 L394.1,769.9 L394.8,767.4 L395.4,765.0 L396.1,762.6 L396.8,760.2 L397.6,757.8 L398.3,755.4 L399.0,753.0 L399.8,750.6 L400.6,748.3 L401.4,745.9 L402.2,743.5 L403.0,741.2 L403.9,738.8 L404.7,736.4 L405.6,734.1 L406.5,731.8 L407.4,729.4 L408.3,727.1 L409.3,724.8 L410.2,722.5 L411.2,720.1 L412.2,717.8 L413.2,715.5 L414.2,713.3 L415.2,711.0 L416.3,708.7 L417.3,706.4 L418.4,704.2 L419.5,701.9 L420.6,699.7 L421.7,697.4 L422.9,695.2 L424.0,693.0 L425.2,690.8 L426.4,688.6 L427.6,686.4 L428.8,684.2 L430.0,682.0 L431.3,679.8 L432.6,677.7 L433.8,675.5 L435.1,673.4 L436.5,671.2 L437.8,669.1 L439.1,667.0 L440.5,664.9 L441.9,662.8 L443.3,660.7 L444.7,658.6 L446.1,656.6 L447.5,654.5 L449.0,652.5 L450.4,650.5 L451.9,648.4 L453.4,646.4 L454.9,644.4 L456.5,642.5 L458.0,640.5 L459.6,638.5 L461.2,636.6 L462.8,634.7 L464.4,632.7 L466.0,630.8 L467.6,628.9 L469.3,627.1 L471.0,625.2 L472.6,623.3 L474.3,621.5 L476.1,619.7 L477.8,617.9 L479.5,616.1 L481.3,614.3 L483.1,612.5 L484.9,610.8 L486.7,609.1 L488.5,607.4 L490.4,605.7 L492.2,604.0 L494.1,602.3 L496.0,600.7 L497.9,599.0 L499.8,597.4 L501.7,595.8 L503.6,594.2 L505.6,592.6 L507.6,591.1 L509.5,589.5 L511.5,588.0 L513.5,586.5 L515.5,585.0 L517.6,583.6 L519.6,582.1 L521.6,580.7 L523.7,579.2 L525.8,577.8 L527.9,576.4 L529.9,575.0 L532.0,573.7 L534.2,572.3 L536.3,571.0 L538.4,569.7 L540.6,568.4 L542.7,567.1 L544.9,565.8 L547.0,564.6 L549.2,563.3 L551.4,562.1 L553.6,560.9 L555.8,559.7 L558.0,558.6 L560.2,557.4 L562.5,556.2 L564.7,555.1 L566.9,554.0 L569.2,552.9 L571.4,551.8 L573.7,550.8 L576.0,549.7 L578.3,548.7 L580.5,547.6 L582.8,546.6 L585.1,545.6 L587.4,544.6 L589.7,543.7 L592.1,542.7 L594.4,541.8 L596.7,540.9 L599.0,540.0 L601.4,539.1 L603.7,538.2 L606.1,537.3 L608.4,536.5 L610.8,535.6 L613.2,534.8 L615.5,534.0 L617.9,533.2 L620.3,532.4 L622.7,531.6 L625.1,530.9 L627.5,530.1 L629.8,529.4 L632.2,528.7 L634.7,528.0 L637.1,527.3 L639.5,526.6 L641.9,526.0 L644.3,525.3 L646.7,524.7 L649.2,524.1 L651.6,523.5 L654.0,522.9 L656.5,522.3 L658.9,521.7 L661.3,521.1 L663.8,520.6 L666.2,520.0 L668.7,519.5 L671.1,519.0 L673.6,518.5 L676.0,518.0 L678.5,517.5 L680.9,517.0 L683.4,516.6 L685.9,516.1 L688.3,515.7 L690.8,515.2 L693.3,514.8 L695.7,514.4 L698.2,514.0 L700.7,513.6 L703.2,513.2 L705.6,512.9 L708.1,512.5 L710.6,512.1 L713.1,511.8 L715.6,511.5 L718.0,511.1 L720.5,510.8 L723.0,510.5 L725.5,510.2 L728.0,509.9 L730.5,509.6 L733.0,509.3 L735.5,509.1 L737.9,508.8 L740.4,508.5 L742.9,508.3 L745.4,508.1 L747.9,507.8 L750.4,507.6 L752.9,507.4 L755.4,507.1 L757.9,506.9 L760.4,506.7 L762.9,506.5 L765.4,506.3 L767.9,506.2 L770.4,506.0 L772.9,505.8 L775.4,505.6 L777.9,505.5 L780.4,505.3 L782.9,505.2 L785.4,505.0 L787.9,504.9 L790.4,504.7 L792.9,504.6 L795.4,504.4 L797.9,504.3 L800.4,504.2 L802.9,504.1 L805.4,504.0 L807.9,503.8 L810.4,503.7 L812.9,503.6 L815.4,503.5 L817.9,503.4 L820.4,503.3 L822.9,503.2 L825.4,503.1 L827.9,503.1 L830.4,503.0 L832.9,502.9 L835.4,502.8 L837.9,502.7 L840.4,502.6 L842.9,502.6 L845.4,502.5 L847.9,502.4 L850.4,502.3 L852.9,502.3 L855.5,502.2 L858.0,502.1 L860.5,502.0 L863.0,502.0 L865.5,501.9 L868.0,501.8 L870.5,501.8 L873.0,501.7 L875.5,501.6 L878.0,501.6 L880.5,501.5 L883.0,501.5 L885.5,501.4 L888.0,501.3 L890.5,501.3 L893.0,501.2 L895.5,501.2 L898.0,501.1 L900.5,501.1 L903.0,501.0 L905.5,501.0 L908.0,500.9 L910.5,500.9 L913.0,500.8 L915.5,500.8 L918.1,500.7 L920.6,500.7 L923.1,500.6 L925.6,500.6 L928.1,500.5 L930.6,500.5 L933.1,500.5 L935.6,500.4 L938.1,500.4 L940.6,500.3 L943.1,500.3 L945.6,500.3 L948.1,500.2 L950.6,500.2 L953.1,500.1 L955.6,500.1 L958.1,500.1 L960.6,500.0 L963.1,500.0 L965.6,500.0 L968.1,499.9 L970.6,499.9 L973.1,499.9 L975.7,499.8 L978.2,499.8 L980.7,499.8 L983.2,499.8 L985.7,499.7 L988.2,499.7 L990.7,499.7 L993.2,499.7 L995.7,499.6 L998.2,499.6 L1000.7,499.6 L1003.2,499.6 L1005.7,499.5 L1008.2,499.5 L1010.7,499.5 L1013.2,499.5 L1015.7,499.5 L1018.2,499.4 L1020.7,499.4 L1023.2,499.4 L1025.7,499.4 L1028.2,499.4 L1030.8,499.4 L1033.3,499.3 L1035.8,499.3 L1038.3,499.3 L1040.8,499.3 L1043.3,499.3 L1045.8,499.3 L1048.3,499.3 L1050.8,499.2 L1053.3,499.2 L1055.8,499.2 L1058.3,499.2 L1060.8,499.2 L1063.3,499.2 L1065.8,499.2 L1068.3,499.2 L1070.8,499.2 L1073.3,499.1 L1075.8,499.1 L1078.3,499.1 L1080.8,499.1 L1083.4,499.1 L1085.9,499.1 L1088.4,499.1 L1090.9,499.1 L1093.4,499.1 L1095.9,499.1 L1098.4,499.1 L1100.9,499.1 L1103.4,499.1 L1105.9,499.1 L1108.4,499.1 L1110.9,499.1 L1113.4,499.0 L1115.9,499.0 L1118.4,499.0 L1120.9,499.0 L1123.4,499.0 L1125.9,499.0 L1128.4,499.0 L1130.9,499.0 L1133.4,499.0 L1136.0,499.0 L1138.5,499.0 L1141.0,499.0 L1143.5,499.0 L1146.0,499.0 L1148.5,499.0 L1151.0,499.0 L1153.5,499.0 L1156.0,499.0 L1158.5,499.0 L1161.0,499.0 L1163.5,499.0 L1166.0,499.0 L1168.5,499.0 L1171.0,499.0 L1173.5,499.0 L1176.0,499.0 L1178.5,499.0 L1181.0,499.0 L1183.5,499.0 L1186.0,499.0 L1188.5,499.0 L1191.1,499.0 L1193.6,499.0 L1196.1,499.0 L1198.6,499.0 L1201.1,499.0 L1203.6,499.0 L1206.1,499.0 L1208.6,499.0 L1211.1,499.0 L1213.6,499.0 L1216.1,499.0 L1218.6,499.0 L1221.1,499.0 L1223.6,499.0 L1226.1,499.0 L1228.6,499.0 L1231.1,499.0 L1233.6,499.0 L1236.1,498.9 L1238.6,498.9 L1241.1,498.9 L1243.7,498.9 L1246.2,498.9 L1248.7,498.9 L1251.2,498.9 L1253.7,498.9 L1256.2,498.9 L1258.7,498.9 L1261.2,498.9 L1263.7,498.9 L1266.2,498.9 L1268.7,498.9 L1271.2,498.9 L1273.7,498.9 L1276.2,498.9 L1278.7,498.9 L1281.2,498.8 L1283.7,498.8 L1286.2,498.8 L1288.7,498.8 L1291.2,498.8 L1293.7,498.8 L1296.3,498.8 L1298.8,498.8 L1301.3,498.8 L1303.8,498.8 L1306.3,498.7 L1308.8,498.7 L1311.3,498.7 L1313.8,498.7 L1316.3,498.7 L1318.8,498.7 L1321.3,498.7 L1323.8,498.6 L1326.3,498.6 L1328.8,498.6 L1331.3,498.6 L1333.8,498.6 L1336.3,498.6 L1338.8,498.5 L1341.3,498.5 L1343.8,498.5 L1346.3,498.5 L1348.9,498.5 L1351.4,498.4 L1353.9,498.4 L1356.4,498.4 L1358.9,498.4 L1361.4,498.4 L1363.9,498.3 L1366.4,498.3 L1368.9,498.3 L1371.4,498.3 L1373.9,498.2 L1376.4,498.2 L1378.9,498.2 L1381.4,498.1 L1383.9,498.1 L1386.4,498.1 L1388.9,498.1 L1391.4,498.0 L1393.9,498.0 L1396.4,498.0 L1398.9,497.9 L1401.4,497.9 L1404.0,497.9 L1406.5,497.8 L1409.0,497.8 L1411.5,497.7 L1414.0,497.7 L1416.5,497.7 L1419.0,497.6 L1421.5,497.6 L1424.0,497.5 L1426.5,497.5 L1429.0,497.5 L1431.5,497.4 L1434.0,497.4 L1436.5,497.3 L1439.0,497.3 L1441.5,497.2 L1444.0,497.2 L1446.5,497.1 L1449.0,497.1 L1451.5,497.0 L1454.0,497.0 L1456.5,496.9 L1459.0,496.9 L1461.5,496.8 L1464.1,496.8 L1466.6,496.7 L1469.1,496.7 L1471.6,496.6 L1474.1,496.5 L1476.6,496.5 L1479.1,496.4 L1481.6,496.4 L1484.1,496.3 L1486.6,496.2 L1489.1,496.2 L1491.6,496.1 L1494.1,496.0 L1496.6,496.0 L1499.1,495.9 L1501.6,495.8 L1504.1,495.7 L1506.6,495.7 L1509.1,495.6 L1511.6,495.5 L1514.1,495.4 L1516.6,495.4 L1519.1,495.3 L1521.6,495.2 L1524.1,495.1 L1526.6,495.0 L1529.2,495.0 L1531.7,494.9 L1534.2,494.8 L1536.7,494.7 L1539.2,494.6 L1541.7,494.5 L1544.2,494.4 L1546.7,494.4 L1549.2,494.3 L1551.7,494.2 L1554.2,494.1 L1556.7,494.0 L1559.2,493.9 L1561.7,493.8 L1564.2,493.7 L1566.7,493.6 L1569.2,493.5 L1571.7,493.4 L1574.2,493.3 L1576.7,493.2 L1579.2,493.1 L1581.7,492.9 L1584.2,492.8 L1586.7,492.7 L1589.2,492.6 L1591.7,492.5 L1594.2,492.4 L1596.7,492.3 L1599.2,492.1 L1601.7,492.0 L1604.2,491.9 L1606.7,491.8 L1609.2,491.7 L1611.7,491.5 L1614.0,491.6" fill="none" stroke="#0000ff" stroke-width="16" stroke-linejoin="round" stroke-linecap="butt"/>
<path d="M1601.0,969.0 L1598.6,969.7 L1596.1,970.2 L1593.7,970.6 L1591.2,971.0 L1588.7,971.5 L1586.2,971.9 L1583.8,972.2 L1581.3,972.6 L1578.8,973.0 L1576.3,973.3 L1573.8,973.7 L1571.3,974.0 L1568.9,974.3 L1566.4,974.6 L1563.9,974.9 L1561.4,975.2 L1558.9,975.5 L1556.4,975.7 L1553.9,976.0 L1551.4,976.2 L1548.9,976.5 L1546.4,976.7 L1543.9,976.9 L1541.4,977.1 L1538.9,977.3 L1536.4,977.5 L1533.9,977.6 L1531.4,977.8 L1528.9,977.9 L1526.4,978.1 L1523.9,978.2 L1521.4,978.4 L1518.8,978.5 L1516.3,978.6 L1513.8,978.7 L1511.3,978.8 L1508.8,978.9 L1506.3,979.0 L1503.8,979.0 L1501.3,979.1 L1498.8,979.2 L1496.3,979.2 L1493.8,979.3 L1491.3,979.3 L1488.7,979.4 L1486.2,979.4 L1483.7,979.5 L1481.2,979.5 L1478.7,979.5 L1476.2,979.5 L1473.7,979.5 L1471.2,979.5 L1468.7,979.6 L1466.2,979.6 L1463.7,979.6 L1461.1,979.6 L1458.6,979.5 L1456.1,979.5 L1453.6,979.5 L1451.1,979.5 L1448.6,979.5 L1446.1,979.5 L1443.6,979.5 L1441.1,979.4 L1438.6,979.4 L1436.1,979.4 L1433.5,979.4 L1431.0,979.3 L1428.5,979.3 L1426.0,979.3 L1423.5,979.3 L1421.0,979.2 L1418.5,979.2 L1416.0,979.2 L1413.5,979.2 L1411.0,979.1 L1408.4,979.1 L1405.9,979.1 L1403.4,979.1 L1400.9,979.1 L1398.4,979.0 L1395.9,979.0 L1393.4,979.0 L1390.9,979.0 L1388.4,979.0 L1385.9,979.0 L1383.4,979.0 L1380.8,979.0 L1378.3,979.0 L1375.8,979.0 L1373.3,979.0 L1370.8,979.0 L1368.3,979.0 L1365.8,979.0 L1363.3,979.0 L1360.8,979.1 L1358.3,979.1 L1355.7,979.1 L1353.2,979.1 L1350.7,979.1 L1348.2,979.2 L1345.7,979.2 L1343.2,979.2 L1340.7,979.2 L1338.2,979.3 L1335.7,979.3 L1333.2,979.3 L1330.7,979.3 L1328.1,979.4 L1325.6,979.4 L1323.1,979.5 L1320.6,979.5 L1318.1,979.5 L1315.6,979.6 L1313.1,979.6 L1310.6,979.7 L1308.1,979.7 L1305.6,979.7 L1303.1,979.8 L1300.5,979.8 L1298.0,979.9 L1295.5,979.9 L1293.0,980.0 L1290.5,980.0 L1288.0,980.1 L1285.5,980.1 L1283.0,980.2 L1280.5,980.2 L1278.0,980.3 L1275.5,980.3 L1272.9,980.4 L1270.4,980.5 L1267.9,980.5 L1265.4,980.6 L1262.9,980.6 L1260.4,980.7 L1257.9,980.7 L1255.4,980.8 L1252.9,980.9 L1250.4,980.9 L1247.9,981.0 L1245.3,981.0 L1242.8,981.1 L1240.3,981.2 L1237.8,981.2 L1235.3,981.3 L1232.8,981.3 L1230.3,981.4 L1227.8,981.5 L1225.3,981.5 L1222.8,981.6 L1220.3,981.6 L1217.7,981.7 L1215.2,981.8 L1212.7,981.8 L1210.2,981.9 L1207.7,981.9 L1205.2,982.0 L1202.7,982.1 L1200.2,982.1 L1197.7,982.2 L1195.2,982.2 L1192.7,982.3 L1190.2,982.4 L1187.6,982.4 L1185.1,982.5 L1182.6,982.5 L1180.1,982.6 L1177.6,982.6 L1175.1,982.7 L1172.6,982.7 L1170.1,982.8 L1167.6,982.8 L1165.1,982.9 L1162.6,983.0 L1160.0,983.0 L1157.5,983.1 L1155.0,983.1 L1152.5,983.1 L1150.0,983.2 L1147.5,983.2 L1145.0,983.3 L1142.5,983.3 L1140.0,983.4 L1137.5,983.4 L1135.0,983.5 L1132.4,983.5 L1129.9,983.6 L1127.4,983.6 L1124.9,983.7 L1122.4,983.7 L1119.9,983.8 L1117.4,983.8 L1114.9,983.8 L1112.4,983.9 L1109.9,983.9 L1107.4,984.0 L1104.8,984.0 L1102.3,984.1 L1099.8,984.1 L1097.3,984.2 L1094.8,984.2 L1092.3,984.3 L1089.8,984.3 L1087.3,984.4 L1084.8,984.4 L1082.3,984.5 L1079.8,984.5 L1077.2,984.6 L1074.7,984.6 L1072.2,984.7 L1069.7,984.8 L1067.2,984.8 L1064.7,984.9 L1062.2,984.9 L1059.7,985.0 L1057.2,985.0 L1054.7,985.1 L1052.2,985.2 L1049.6,985.2 L1047.1,985.3 L1044.6,985.4 L1042.1,985.4 L1039.6,985.5 L1037.1,985.6 L1034.6,985.6 L1032.1,985.7 L1029.6,985.8 L1027.1,985.9 L1024.6,985.9 L1022.1,986.0 L1019.5,986.1 L1017.0,986.2 L1014.5,986.3 L1012.0,986.4 L1009.5,986.5 L1007.0,986.5 L1004.5,986.6 L1002.0,986.7 L999.5,986.8 L997.0,986.9 L994.5,987.0 L992.0,987.1 L989.5,987.2 L986.9,987.3 L984.4,987.5 L981.9,987.6 L979.4,987.7 L976.9,987.8 L974.4,987.9 L971.9,988.0 L969.4,988.2 L966.9,988.3 L964.4,988.4 L961.9,988.6 L959.4,988.7 L956.9,988.8 L954.4,989.0 L951.9,989.1 L949.3,989.3 L946.8,989.4 L944.3,989.6 L941.8,989.7 L939.3,989.9 L936.8,990.0 L934.3,990.2 L931.8,990.4 L929.3,990.5 L926.8,990.7 L924.3,990.9 L921.8,991.1 L919.3,991.2 L916.8,991.4 L914.3,991.6 L911.8,991.8 L909.3,992.0 L906.8,992.2 L904.3,992.4 L901.8,992.6 L899.3,992.8 L896.8,993.0 L894.3,993.3 L891.8,993.5 L889.3,993.7 L886.8,993.9 L884.3,994.2 L881.8,994.4 L879.3,994.7 L876.8,994.9 L874.3,995.2 L871.8,995.4 L869.3,995.7 L866.8,995.9 L864.3,996.2 L861.8,996.5 L859.3,996.7 L856.8,997.0 L854.3,997.3 L851.8,997.6 L849.4,997.9 L846.9,998.2 L844.4,998.5 L841.9,998.8 L839.4,999.1 L836.9,999.4 L834.4,999.7 L831.9,1000.1 L829.4,1000.4 L826.9,1000.7 L824.5,1001.1 L822.0,1001.4 L819.5,1001.8 L817.0,1002.1 L814.5,1002.5 L812.0,1002.9 L809.6,1003.2 L807.1,1003.6 L804.6,1004.0 L802.1,1004.4 L799.6,1004.8 L797.2,1005.2 L794.7,1005.6 L792.2,1006.0 L789.7,1006.4 L787.3,1006.8 L784.8,1007.2 L782.3,1007.6 L779.8,1008.1 L777.4,1008.5 L774.9,1008.9 L772.4,1009.4 L770.0,1009.8 L767.5,1010.3 L765.0,1010.7 L762.6,1011.2 L760.1,1011.7 L757.6,1012.1 L755.2,1012.6 L752.7,1013.1 L750.2,1013.5 L747.8,1014.0 L745.3,1014.5 L742.8,1015.0 L740.4,1015.5 L737.9,1015.9 L735.4,1016.4 L733.0,1016.9 L730.5,1017.4 L728.1,1017.9 L725.6,1018.4 L723.1,1018.9 L720.7,1019.4 L718.2,1019.9 L715.8,1020.4 L713.3,1020.9 L710.8,1021.4 L708.4,1021.9 L705.9,1022.4 L703.5,1022.9 L701.0,1023.4 L698.6,1023.9 L696.1,1024.4 L693.6,1024.9 L691.2,1025.4 L688.7,1025.9 L686.3,1026.4 L683.8,1026.9 L681.3,1027.4 L678.9,1027.9 L676.4,1028.4 L674.0,1028.9 L671.5,1029.4 L669.1,1029.9 L666.6,1030.4 L664.1,1030.9 L661.7,1031.4 L659.2,1031.9 L656.7,1032.4 L654.3,1032.9 L651.8,1033.4 L649.4,1033.9 L646.9,1034.3 L644.4,1034.8 L642.0,1035.3 L639.5,1035.8 L637.0,1036.2 L634.6,1036.7 L632.1,1037.2 L629.6,1037.6 L627.2,1038.1 L624.7,1038.5 L622.2,1039.0 L619.8,1039.4 L617.3,1039.9 L614.8,1040.3 L612.3,1040.7 L609.9,1041.2 L607.4,1041.6 L604.9,1042.0 L602.5,1042.4 L600.0,1042.8 L597.5,1043.2 L595.0,1043.6 L592.5,1044.0 L590.1,1044.4 L587.6,1044.8 L585.1,1045.2 L582.6,1045.5 L580.1,1045.9 L577.7,1046.3 L575.2,1046.6 L572.7,1047.0 L570.2,1047.3 L567.7,1047.6 L565.2,1048.0 L562.7,1048.3 L560.2,1048.6 L557.8,1048.9 L555.3,1049.2 L552.8,1049.5 L550.3,1049.8 L547.8,1050.1 L545.3,1050.4 L542.8,1050.7 L540.3,1051.0 L537.8,1051.2 L535.3,1051.5 L532.8,1051.8 L530.3,1052.0 L527.8,1052.3 L525.3,1052.5 L522.8,1052.8 L520.3,1053.0 L517.8,1053.2 L515.3,1053.5 L512.8,1053.7 L510.3,1053.9 L507.8,1054.1 L505.3,1054.3 L502.8,1054.6 L500.3,1054.8 L497.8,1055.0 L495.3,1055.2 L492.8,1055.4 L490.3,1055.6 L487.8,1055.7 L485.3,1055.9 L482.8,1056.1 L480.3,1056.3 L477.8,1056.5 L475.3,1056.6 L472.8,1056.8 L470.3,1057.0 L467.8,1057.1 L465.3,1057.3 L462.8,1057.5 L460.3,1057.6 L457.8,1057.8 L455.3,1057.9 L452.8,1058.1 L450.3,1058.2 L447.8,1058.3 L445.3,1058.5 L442.7,1058.6 L440.2,1058.8 L437.7,1059.0 L435.2,1059.1 L432.7,1059.3 L430.2,1059.5 L427.7,1059.7 L425.2,1059.9 L422.7,1060.1 L420.2,1060.3 L417.7,1060.6 L415.2,1060.8 L412.7,1061.1 L410.2,1061.4 L407.8,1061.7 L405.3,1062.0 L402.8,1062.4 L400.3,1062.8 L397.8,1063.2 L395.4,1063.7 L392.9,1064.1 L390.4,1064.6 L388.0,1065.2 L385.5,1065.7 L383.1,1066.4 L380.7,1067.0 L378.3,1067.7 L375.9,1068.4 L373.5,1069.2 L371.1,1070.0 L368.8,1070.9 L366.4,1071.8 L364.1,1072.8 L361.8,1073.8 L359.5,1074.8 L357.3,1076.0 L355.1,1077.1 L352.9,1078.4 L350.7,1079.7 L348.6,1081.0 L346.5,1082.4 L344.5,1083.9 L342.5,1085.4 L340.6,1087.0 L338.7,1088.7 L336.9,1090.4 L335.1,1092.2 L333.4,1094.0 L331.8,1095.9 L330.2,1097.9 L328.7,1099.9 L327.3,1102.0 L325.9,1104.1 L324.6,1106.2 L323.4,1108.4 L322.3,1110.7 L322.0,1113.0 L323.6,1114.9 L325.6,1116.5 L327.5,1118.0 L329.6,1119.5 L331.6,1120.9 L333.7,1122.3 L335.8,1123.7 L337.9,1125.0 L340.1,1126.3 L342.3,1127.5 L344.5,1128.7 L346.7,1129.8 L349.0,1131.0 L351.3,1132.0 L353.6,1133.0 L355.9,1134.0 L358.2,1135.0 L360.5,1135.9 L362.9,1136.7 L365.3,1137.5 L367.6,1138.3 L370.0,1139.1 L372.4,1139.8 L374.8,1140.5 L377.3,1141.1 L379.7,1141.7 L382.1,1142.3 L384.6,1142.9 L387.0,1143.4 L389.5,1143.9 L392.0,1144.3 L394.4,1144.8 L396.9,1145.2 L399.4,1145.5 L401.9,1145.9 L404.4,1146.2 L406.9,1146.5 L409.3,1146.8 L411.8,1147.1 L414.3,1147.3 L416.8,1147.5 L419.3,1147.7 L421.8,1147.9 L424.3,1148.1 L426.8,1148.2 L429.4,1148.3 L431.9,1148.4 L434.4,1148.5 L436.9,1148.6 L439.4,1148.7 L441.9,1148.7 L444.4,1148.7 L446.9,1148.7 L449.4,1148.8 L451.9,1148.8 L454.4,1148.7 L456.9,1148.7 L459.4,1148.7 L462.0,1148.6 L464.5,1148.6 L467.0,1148.5 L469.5,1148.5 L472.0,1148.4 L474.5,1148.3 L477.0,1148.2 L479.5,1148.2 L482.0,1148.1 L484.5,1148.0 L487.0,1147.9 L489.5,1147.8 L492.0,1147.7 L494.5,1147.6 L497.1,1147.5 L499.6,1147.5 L502.1,1147.4 L504.6,1147.3 L507.1,1147.2 L509.6,1147.2 L512.1,1147.1 L514.6,1147.0 L517.1,1147.0 L519.6,1146.9 L522.1,1146.9 L524.6,1146.9 L527.1,1146.9 L529.6,1146.8 L532.2,1146.9 L534.7,1146.9 L537.2,1146.9 L539.7,1146.9 L542.2,1147.0 L544.7,1147.1 L547.2,1147.2 L549.7,1147.3 L552.2,1147.4 L554.7,1147.5 L557.2,1147.7 L559.7,1147.9 L562.2,1148.1 L564.7,1148.4 L567.2,1148.7 L569.7,1149.1 L572.2,1149.5 L574.6,1149.9 L577.1,1150.4 L579.5,1151.0 L582.0,1151.6 L584.4,1152.2 L586.8,1153.0 L589.2,1153.8 L591.5,1154.7 L593.8,1155.6 L596.1,1156.7 L598.4,1157.8 L600.6,1158.9 L602.7,1160.2 L604.9,1161.6 L606.9,1163.0 L608.9,1164.5 L610.9,1166.0 L612.8,1167.7 L614.7,1169.4 L616.5,1171.1 L618.3,1172.8 L620.2,1174.5 L622.0,1176.2 L623.9,1177.8 L625.9,1179.4 L627.9,1180.8 L630.1,1182.1 L632.3,1183.2 L634.7,1184.1 L637.1,1184.8 L639.5,1185.4 L642.0,1185.7 L644.5,1185.8 L647.0,1185.7 L649.5,1185.5 L652.0,1185.1 L654.4,1184.5 L656.9,1183.9 L659.2,1183.0 L661.5,1182.1 L663.8,1181.0 L666.0,1179.8 L668.2,1178.5 L670.2,1177.1 L672.3,1175.6 L674.3,1174.1 L676.2,1172.5 L678.1,1170.8 L679.9,1169.1 L681.7,1167.3 L683.4,1165.5 L685.1,1163.7 L686.7,1161.8 L688.4,1159.9 L689.9,1157.9 L691.5,1155.9 L693.0,1154.0 L694.5,1151.9 L696.0,1149.9 L697.4,1147.9 L698.8,1145.8 L700.3,1143.7 L701.6,1141.6 L703.0,1139.5 L704.3,1137.4 L705.7,1135.3 L707.0,1133.1 L708.2,1131.0 L709.5,1128.8 L710.7,1126.6 L711.9,1124.4 L713.2,1122.2 L714.3,1120.0 L715.5,1117.8 L716.7,1115.6 L717.8,1113.3 L719.0,1111.1 L720.1,1108.9 L721.2,1106.6 L722.3,1104.4 L723.4,1102.1 L724.5,1099.9 L725.6,1097.6 L726.7,1095.4 L727.9,1093.1 L729.0,1090.9 L730.1,1088.7 L731.3,1086.4 L732.5,1084.2 L733.7,1082.0 L734.9,1079.8 L736.1,1077.6 L737.4,1075.5 L738.7,1073.3 L740.0,1071.2 L741.4,1069.1 L742.8,1067.0 L744.2,1065.0 L745.8,1063.0 L747.4,1061.0 L749.1,1059.2 L750.9,1057.5 L752.9,1056.0 L755.0,1054.7 L757.3,1053.7 L759.8,1053.0 L762.2,1052.6 L764.7,1052.3 L767.2,1052.2 L769.7,1052.0 L772.2,1051.9 L774.7,1051.7 L777.2,1051.6 L779.7,1051.4 L782.2,1051.2 L784.7,1051.0 L787.2,1050.7 L789.7,1050.5 L792.2,1050.3 L794.7,1050.0 L797.2,1049.7 L799.7,1049.5 L802.2,1049.2 L804.7,1048.9 L807.2,1048.6 L809.7,1048.3 L812.2,1048.0 L814.7,1047.7 L817.2,1047.4 L819.6,1047.1 L822.1,1046.8 L824.6,1046.5 L827.1,1046.2 L829.6,1045.9 L832.1,1045.6 L834.6,1045.3 L837.1,1045.1 L839.6,1044.8 L842.1,1044.5 L844.6,1044.2 L847.0,1043.9 L849.5,1043.7 L852.0,1043.4 L854.5,1043.2 L857.0,1042.9 L859.5,1042.7 L862.0,1042.5 L864.5,1042.3 L867.0,1042.1 L869.5,1041.9 L872.0,1041.7 L874.5,1041.6 L877.0,1041.4 L879.5,1041.3 L882.0,1041.2 L884.6,1041.1 L887.1,1041.0 L889.6,1040.9 L892.1,1040.8 L894.6,1040.7 L897.1,1040.7 L899.6,1040.6 L902.1,1040.6 L904.6,1040.5 L907.1,1040.5 L909.6,1040.4 L912.1,1040.4 L914.6,1040.4 L917.1,1040.4 L919.7,1040.3 L922.2,1040.3 L924.7,1040.3 L927.2,1040.3 L929.7,1040.3 L932.2,1040.3 L934.7,1040.2 L937.2,1040.2 L939.7,1040.2 L942.2,1040.2 L944.7,1040.2 L947.2,1040.1 L949.8,1040.1 L952.3,1040.1 L954.8,1040.0 L957.3,1040.0 L959.8,1039.9 L962.3,1039.8 L964.8,1039.8 L967.3,1039.7 L969.8,1039.6 L972.3,1039.5 L974.8,1039.4 L977.3,1039.2 L979.8,1039.1 L982.3,1039.0 L984.8,1038.8 L987.3,1038.6 L989.8,1038.4 L992.3,1038.2 L994.8,1038.0 L997.3,1037.8 L999.8,1037.5 L1002.3,1037.3 L1004.8,1037.0 L1007.3,1036.7 L1009.8,1036.3 L1012.3,1036.0 L1014.8,1035.6 L1017.2,1035.3 L1019.7,1034.8 L1022.2,1034.4 L1024.7,1034.0 L1027.1,1033.5 L1029.6,1033.0 L1032.0,1032.5 L1034.5,1032.0 L1036.9,1031.4 L1039.4,1030.9 L1041.8,1030.3 L1044.3,1029.7 L1046.7,1029.1 L1049.1,1028.4 L1051.5,1027.8 L1054.0,1027.2 L1056.4,1026.5 L1058.8,1025.8 L1061.2,1025.1 L1063.6,1024.4 L1066.0,1023.7 L1068.4,1023.0 L1070.8,1022.3 L1073.2,1021.5 L1075.6,1020.8 L1078.0,1020.0 L1080.4,1019.3 L1082.8,1018.5 L1085.2,1017.7 L1087.6,1016.9 L1089.9,1016.2 L1092.3,1015.4 L1094.7,1014.6 L1097.1,1013.8 L1099.5,1013.0 L1101.9,1012.2 L1104.2,1011.4 L1106.6,1010.6 L1109.0,1009.9 L1111.4,1009.1 L1113.8,1008.3 L1116.1,1007.5 L1118.5,1006.7 L1120.9,1005.9 L1123.3,1005.1 L1125.7,1004.4 L1128.1,1003.6 L1130.5,1002.8 L1132.8,1002.1 L1135.2,1001.3 L1137.6,1000.6 L1140.0,999.9 L1142.4,999.1 L1144.8,998.4 L1147.2,997.7 L1149.7,997.0 L1152.1,996.3 L1154.5,995.7 L1156.9,995.0 L1159.3,994.4 L1161.8,993.7 L1164.2,993.1 L1166.6,992.5 L1169.1,991.9 L1171.5,991.3 L1173.9,990.8 L1176.4,990.2 L1178.8,989.7 L1181.3,989.2 L1183.8,988.7 L1186.2,988.2 L1188.7,987.8 L1191.2,987.3 L1193.6,986.9 L1196.1,986.5 L1198.6,986.2 L1201.1,985.8 L1203.6,985.5 L1206.0,985.1 L1208.5,984.9 L1211.0,984.6 L1213.5,984.3 L1216.0,984.1 L1218.5,983.9 L1221.0,983.7 L1223.5,983.6 L1226.0,983.4 L1228.5,983.3 L1231.0,983.2 L1233.6,983.1 L1236.1,983.0 L1238.6,982.9 L1241.1,982.8 L1243.6,982.7 L1246.1,982.5 L1248.6,982.4 L1251.1,982.3 L1253.6,982.1 L1256.1,981.9 L1258.6,981.7 L1261.1,981.5 L1263.6,981.2 L1266.1,980.9 L1268.6,980.6 L1271.0,980.2 L1273.5,979.7 L1276.0,979.3 L1278.4,978.7 L1280.9,978.1 L1283.3,977.5 L1285.7,976.8 L1288.1,976.0 L1290.4,975.1 L1292.8,974.2 L1295.1,973.2 L1297.3,972.2 L1299.6,971.1 L1301.8,969.9 L1304.0,968.7 L1306.2,967.4 L1308.3,966.2 L1310.5,964.8 L1312.6,963.5 L1314.7,962.1 L1316.7,960.7 L1318.8,959.2 L1320.8,957.8 L1322.9,956.3 L1324.9,954.8 L1326.9,953.3 L1328.9,951.7 L1330.8,950.2 L1332.8,948.7 L1334.8,947.1 L1336.8,945.6 L1338.7,944.0 L1340.7,942.5 L1342.7,940.9 L1344.7,939.4 L1346.6,937.8 L1348.6,936.3 L1350.6,934.8 L1352.6,933.2 L1354.6,931.7 L1356.6,930.2 L1358.6,928.7 L1360.6,927.2 L1362.6,925.7 L1364.6,924.2 L1366.6,922.7 L1368.6,921.2 L1370.7,919.7 L1372.7,918.2 L1374.7,916.8 L1376.8,915.3 L1378.8,913.9 L1380.9,912.4 L1382.9,911.0 L1385.0,909.6 L1387.1,908.2 L1389.2,906.8 L1391.2,905.4 L1393.3,904.0 L1395.4,902.6 L1397.5,901.2 L1399.6,899.9 L1401.8,898.5 L1403.9,897.2 L1406.0,895.9 L1408.1,894.6 L1410.3,893.3 L1412.4,892.0 L1414.6,890.7 L1416.8,889.4 L1418.9,888.2 L1421.1,886.9 L1423.3,885.7 L1425.5,884.5 L1427.7,883.3 L1429.9,882.2 L1432.2,881.1 L1434.5,880.0 L1436.8,879.0 L1439.1,878.0 L1441.4,877.2 L1443.8,876.4 L1446.2,875.7 L1448.7,875.1 L1451.1,874.6 L1453.6,874.3 L1456.1,874.1 L1458.6,874.2 L1461.1,874.4 L1463.6,874.9 L1466.0,875.6 L1468.3,876.6 L1470.5,877.8 L1472.6,879.2 L1474.6,880.7 L1476.4,882.4 L1478.2,884.2 L1479.9,886.0 L1481.5,887.9 L1483.1,889.9 L1484.6,891.9 L1486.1,893.9 L1487.5,896.0 L1488.9,898.1 L1490.2,900.2 L1491.6,902.3 L1492.9,904.4 L1494.2,906.6 L1495.5,908.7 L1496.8,910.9 L1498.2,913.0 L1499.5,915.1 L1500.8,917.2 L1502.2,919.4 L1503.5,921.4 L1505.0,923.5 L1506.4,925.6 L1507.9,927.6 L1509.4,929.6 L1511.0,931.5 L1512.7,933.4 L1514.4,935.2 L1516.1,937.0 L1518.0,938.7 L1519.9,940.3 L1521.9,941.9 L1523.9,943.3 L1526.1,944.6 L1528.3,945.8 L1530.5,946.9 L1532.8,947.9 L1535.2,948.8 L1537.6,949.5 L1540.0,950.2 L1542.4,950.8 L1544.9,951.3 L1547.4,951.8 L1549.8,952.2 L1552.3,952.5 L1554.8,952.8 L1557.3,953.1 L1559.8,953.3 L1562.3,953.5 L1564.8,953.6 L1567.3,953.8 L1569.8,953.8 L1572.3,953.9 L1574.8,954.0 L1577.3,954.0 L1579.8,954.0 L1582.4,954.0 L1584.9,954.1 L1587.4,954.1 L1589.9,954.1 L1592.4,954.1 L1594.9,954.1 L1597.4,954.2 L1600.0,954.3" fill="none" stroke="#000000" stroke-width="16" stroke-linejoin="round" stroke-linecap="butt"/>
<line x1="791.1" y1="121.0" x2="847.8" y2="103.7" stroke="#ff0000" stroke-width="9.5" stroke-linecap="butt"/><polygon points="909.0,85.1 848.9,121.2 843.9,104.9 839.0,88.6" fill="#ff0000"/>
<line x1="657.4" y1="237.8" x2="614.0" y2="256.9" stroke="#ff0000" stroke-width="9.5" stroke-linecap="butt"/><polygon points="555.4,282.7 610.8,239.7 617.6,255.3 624.5,270.9" fill="#ff0000"/>
<line x1="987.3" y1="235.0" x2="964.9" y2="275.0" stroke="#ff0000" stroke-width="9.5" stroke-linecap="butt"/><polygon points="933.7,330.9 952.0,263.2 966.9,271.5 981.7,279.8" fill="#ff0000"/>
<line x1="1505.7" y1="167.9" x2="1476.0" y2="202.2" stroke="#ff0000" stroke-width="9.5" stroke-linecap="butt"/><polygon points="1434.0,250.5 1465.7,188.0 1478.6,199.1 1491.4,210.3" fill="#ff0000"/>
<line x1="472.9" y1="570.0" x2="521.8" y2="538.1" stroke="#0000ff" stroke-width="9.5" stroke-linecap="butt"/><polygon points="575.4,503.1 527.7,554.5 518.5,540.3 509.2,526.0" fill="#0000ff"/>
<line x1="716.8" y1="652.7" x2="664.3" y2="672.9" stroke="#0000ff" stroke-width="9.5" stroke-linecap="butt"/><polygon points="604.6,695.8 662.0,655.5 668.1,671.4 674.2,687.3" fill="#0000ff"/>
<line x1="627.3" y1="992.3" x2="697.2" y2="981.6" stroke="#000000" stroke-width="9.5" stroke-linecap="butt"/><polygon points="760.5,971.9 695.9,999.0 693.3,982.2 690.7,965.4" fill="#000000"/>
<line x1="553.6" y1="1189.5" x2="494.5" y2="1193.4" stroke="#000000" stroke-width="9.5" stroke-linecap="butt"/><polygon points="430.6,1197.7 497.3,1176.2 498.4,1193.2 499.6,1210.1" fill="#000000"/>
<line x1="1181.6" y1="1025.5" x2="1136.6" y2="1042.0" stroke="#000000" stroke-width="9.5" stroke-linecap="butt"/><polygon points="1076.5,1064.1 1134.5,1024.7 1140.3,1040.7 1146.2,1056.6" fill="#000000"/>
</g>
<g id="labels">
<text transform="matrix(0.9769,0,0,1.0107,172.28,90.04)" font-size="86">0.0</text>
<text transform="matrix(0.9659,0,0,1.0206,145.66,318.63)" font-size="86">-0.8</text>
<text transform="matrix(0.9707,0,0,1.0239,172.40,539.23)" font-size="86">0.0</text>
<text transform="matrix(0.9719,0,0,0.9975,145.84,724.65)" font-size="86">-0.5</text>
<text transform="matrix(0.9707,0,0,1.0091,172.40,1004.34)" font-size="86">0.0</text>
<text transform="matrix(0.9701,0,0,1.0074,145.85,1166.74)" font-size="86">-0.8</text>
<text transform="matrix(0.9614,0,0,1.0164,464.08,1347.48)" font-size="86">-3</text>
<text transform="matrix(0.9663,0,0,1.0333,831.36,1348.50)" font-size="86">-2</text>
<text transform="matrix(0.8170,0,0,1.0515,1200.34,1348.50)" font-size="86">-1</text>
<text transform="matrix(0.9399,0,0,1.0222,1580.81,1347.63)" font-size="86">0</text>
<text transform="matrix(0.9878,0,0,0.9845,1430.74,373.92)" font-size="100">a</text>
<text transform="matrix(1.0752,0,0,0.9905,1455.31,769.31)" font-size="100">b</text>
<text transform="matrix(1.0010,0,0,0.9973,1468.10,1190.00)" font-size="100">c</text>
<text transform="matrix(0.9928,0,0,0.9825,657.01,1470.52)" font-size="109"><tspan font-style="italic">E</tspan> <tspan font-weight="normal">/</tspan> V vs. Pt</text>
<text transform="matrix(0,-1.0160,1.0297,0,120.93,899.82)" font-size="108"><tspan font-style="italic">j</tspan> <tspan font-weight="normal">/</tspan> mA cm<tspan dx="3.4" dy="-26.5">-</tspan><tspan dx="-3.4">2</tspan></text>
</g>
</svg>
</body></html>
